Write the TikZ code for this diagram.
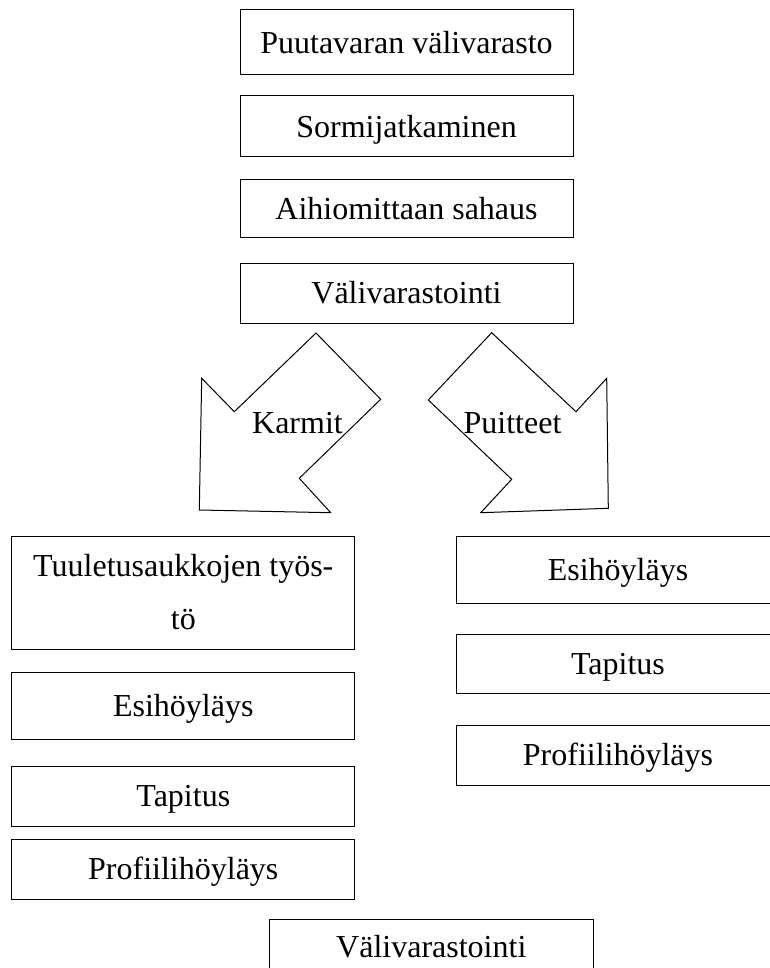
\documentclass[tikz,border=0pt]{standalone}
\usepackage{fontspec}
\setmainfont{Liberation Serif}
\begin{document}
\begin{tikzpicture}[x=1pt,y=-1pt,
  txt/.style={font=\fontsize{32}{53}\selectfont},
  box/.style={draw,line width=1pt,inner sep=0pt,txt,text height=21.2pt,text depth=0pt},
  tallbox/.style={draw,line width=1pt,inner sep=0pt,txt,align=center},
  lbl/.style={inner sep=0pt,txt,text height=21.2pt,text depth=0pt},
  bigarrow/.style={draw,line width=1pt,line join=miter}]
\useasboundingbox (0,0) rectangle (770,968);
\clip (0,0) rectangle (770,968);
% top column
\node[box,minimum width=333pt,minimum height=65pt] (b1) at (406.5,42.5) {Puutavaran välivarasto};
\node[box,minimum width=333pt,minimum height=61pt] (b2) at (406.5,126.5) {Sormijatkaminen};
\node[box,minimum width=333pt,minimum height=58pt] (b3) at (406.5,209) {Aihiomittaan sahaus};
\node[box,minimum width=333pt,minimum height=60pt] (b4) at (406.5,293) {Välivarastointi};
% block arrows
\draw[bigarrow] (316,333) -- (380.7,399.3) -- (299.3,478.3) -- (330.7,512.7) -- (199.3,510) -- (201.7,378.3) -- (234.3,411.7) -- cycle;
\draw[bigarrow] (491.7,332.7) -- (576,411.7) -- (606.7,378.3) -- (608.3,508.3) -- (480.7,512.7) -- (511.7,479.3) -- (428.3,400) -- cycle;
\node[lbl] (karmit) at (297.5,423) {Karmit};
\node[lbl] (puitteet) at (512.5,423) {Puitteet};
% left column
\node[tallbox,minimum width=343.3pt,minimum height=113pt] (l1) at (183.3,592.5) {Tuuletusaukkojen työs-\\tö};
\node[box,minimum width=343.3pt,minimum height=67pt] (l2) at (183.3,706.3) {Esihöyläys};
\node[box,minimum width=343.3pt,minimum height=60pt] (l3) at (183.3,796) {Tapitus};
\node[box,minimum width=343.3pt,minimum height=60pt] (l4) at (183.3,869) {Profiilihöyläys};
% right column
\node[box,minimum width=324pt,minimum height=66.7pt] (r1) at (618,570) {Esihöyläys};
\node[box,minimum width=324pt,minimum height=59pt] (r2) at (618,663.8) {Tapitus};
\node[box,minimum width=324pt,minimum height=60pt] (r3) at (618,755) {Profiilihöyläys};
% bottom
\node[box,minimum width=324pt,minimum height=56pt] (bot) at (431.3,947) {Välivarastointi};
\end{tikzpicture}
\end{document}
